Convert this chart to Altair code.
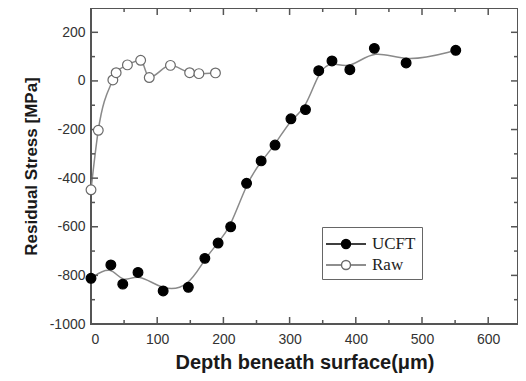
import altair as alt
import pandas as pd

# ---- data ----
ucft_x = [0, 30, 48, 71, 109, 147, 172, 192, 211, 235, 257, 278, 302, 324, 344, 364, 391, 428, 476, 551]
ucft_y = [-812, -757, -836, -788, -864, -849, -730, -667, -600, -421, -329, -264, -156, -118, 42, 82, 46, 134, 74, 126]
raw_x = [0, 11, 33, 38, 55, 75, 88, 120, 149, 163, 188]
raw_y = [-448, -203, 4, 34, 66, 85, 14, 64, 34, 30, 33]
series_names = ["UCFT", "Raw"]

x_major = [0, 100, 200, 300, 400, 500, 600]
x_minor = [50, 150, 250, 350, 450, 550]
y_major = [-1000, -800, -600, -400, -200, 0, 200]
y_minor = [-900, -700, -500, -300, -100, 100]

W, H = 427, 316
AX = "#555555"

df = pd.DataFrame({
    "depth": ucft_x + raw_x,
    "stress": ucft_y + raw_y,
    "series": ["UCFT"] * len(ucft_x) + ["Raw"] * len(raw_x),
})

xs = alt.Scale(domain=[0, 645], nice=False, zero=False)
ys = alt.Scale(domain=[-1000, 300], nice=False, zero=False)

x_axis = alt.Axis(values=x_major, title="Depth beneath surface(\u03bcm)", ticks=False, domain=False,
                  grid=False, labelPadding=8, titlePadding=6, labelExpr="toString(datum.value)")
y_axis = alt.Axis(values=y_major, title="Residual Stress [MPa]", ticks=False, domain=False,
                  grid=False, labelPadding=6, titlePadding=9, labelExpr="toString(datum.value)")

base = alt.Chart(df)

line_ucft = base.transform_filter(alt.datum.series == "UCFT").mark_line(
    color="#8a8a8a", strokeWidth=1.5, interpolate="basis"
).encode(
    x=alt.X("depth:Q", scale=xs, axis=x_axis),
    y=alt.Y("stress:Q", scale=ys, axis=y_axis),
)
line_raw = base.transform_filter(alt.datum.series == "Raw").mark_line(
    color="#8a8a8a", strokeWidth=1.5, interpolate="monotone"
).encode(
    x=alt.X("depth:Q", scale=xs, axis=x_axis),
    y=alt.Y("stress:Q", scale=ys, axis=y_axis),
)

sym = "M-2,0L-0.45,0M0.45,0L2,0M-0.45,0A0.45,0.45 0 1,1 0.45,0A0.45,0.45 0 1,1 -0.45,0Z"

leg = alt.Legend(title=None, orient="none", legendX=231, legendY=219)

points = base.mark_point(filled=True, shape="circle", size=95, strokeWidth=1.2, opacity=1, fillOpacity=1).encode(
    x=alt.X("depth:Q", scale=xs, axis=x_axis),
    y=alt.Y("stress:Q", scale=ys, axis=y_axis),
    fill=alt.Fill("series:N", scale=alt.Scale(domain=series_names, range=["#000000", "#ffffff"]), legend=leg),
    stroke=alt.Stroke("series:N", scale=alt.Scale(domain=series_names, range=["#000000", "#6a6a6a"]), legend=leg),
)


def xticks(vals, length, top):
    d = pd.DataFrame({"depth": vals})
    y0 = 0 if top else H
    y1 = length if top else H - length
    return alt.Chart(d).mark_rule(color=AX, strokeWidth=1.5).encode(
        x=alt.X("depth:Q", scale=xs, axis=x_axis), y=alt.value(y0), y2=alt.value(y1))


def yticks(vals, length, right):
    d = pd.DataFrame({"stress": vals})
    x0 = W if right else 0
    x1 = W - length if right else length
    return alt.Chart(d).mark_rule(color=AX, strokeWidth=1.5).encode(
        y=alt.Y("stress:Q", scale=ys, axis=y_axis), x=alt.value(x0), x2=alt.value(x1))


ticks = [
    xticks(x_major, 7, False), xticks(x_minor, 4, False),
    xticks(x_major, 7, True), xticks(x_minor, 4, True),
    yticks(y_major, 7, False), yticks(y_minor, 4, False),
    yticks(y_major, 7, True), yticks(y_minor, 4, True),
]

chart = alt.layer(line_ucft, line_raw, *ticks, points).properties(
    width=W, height=H,
    autosize=alt.AutoSizeParams(type="none"),
    padding={"left": 83, "top": 0, "right": 0, "bottom": 49},
).configure_view(
    stroke=AX, strokeWidth=2
).configure_axis(
    labelFont="Liberation Sans", labelFontSize=14, labelColor="#333333",
    titleFont="Liberation Sans", titleFontWeight="bold", titleColor="#1a1a1a",
).configure_axisX(
    titleFontSize=20
).configure_axisY(
    titleFontSize=17
).configure_legend(
    symbolType=sym, symbolSize=400, symbolStrokeWidth=1.4, symbolOffset=7,
    labelFont="Liberation Serif", labelFontSize=17, labelColor="#222222",
    strokeColor="#666666", padding=6, rowPadding=2, labelOffset=15,
    cornerRadius=0,
)

chart.save("out.html", embed_options={"renderer": "svg", "actions": False})
